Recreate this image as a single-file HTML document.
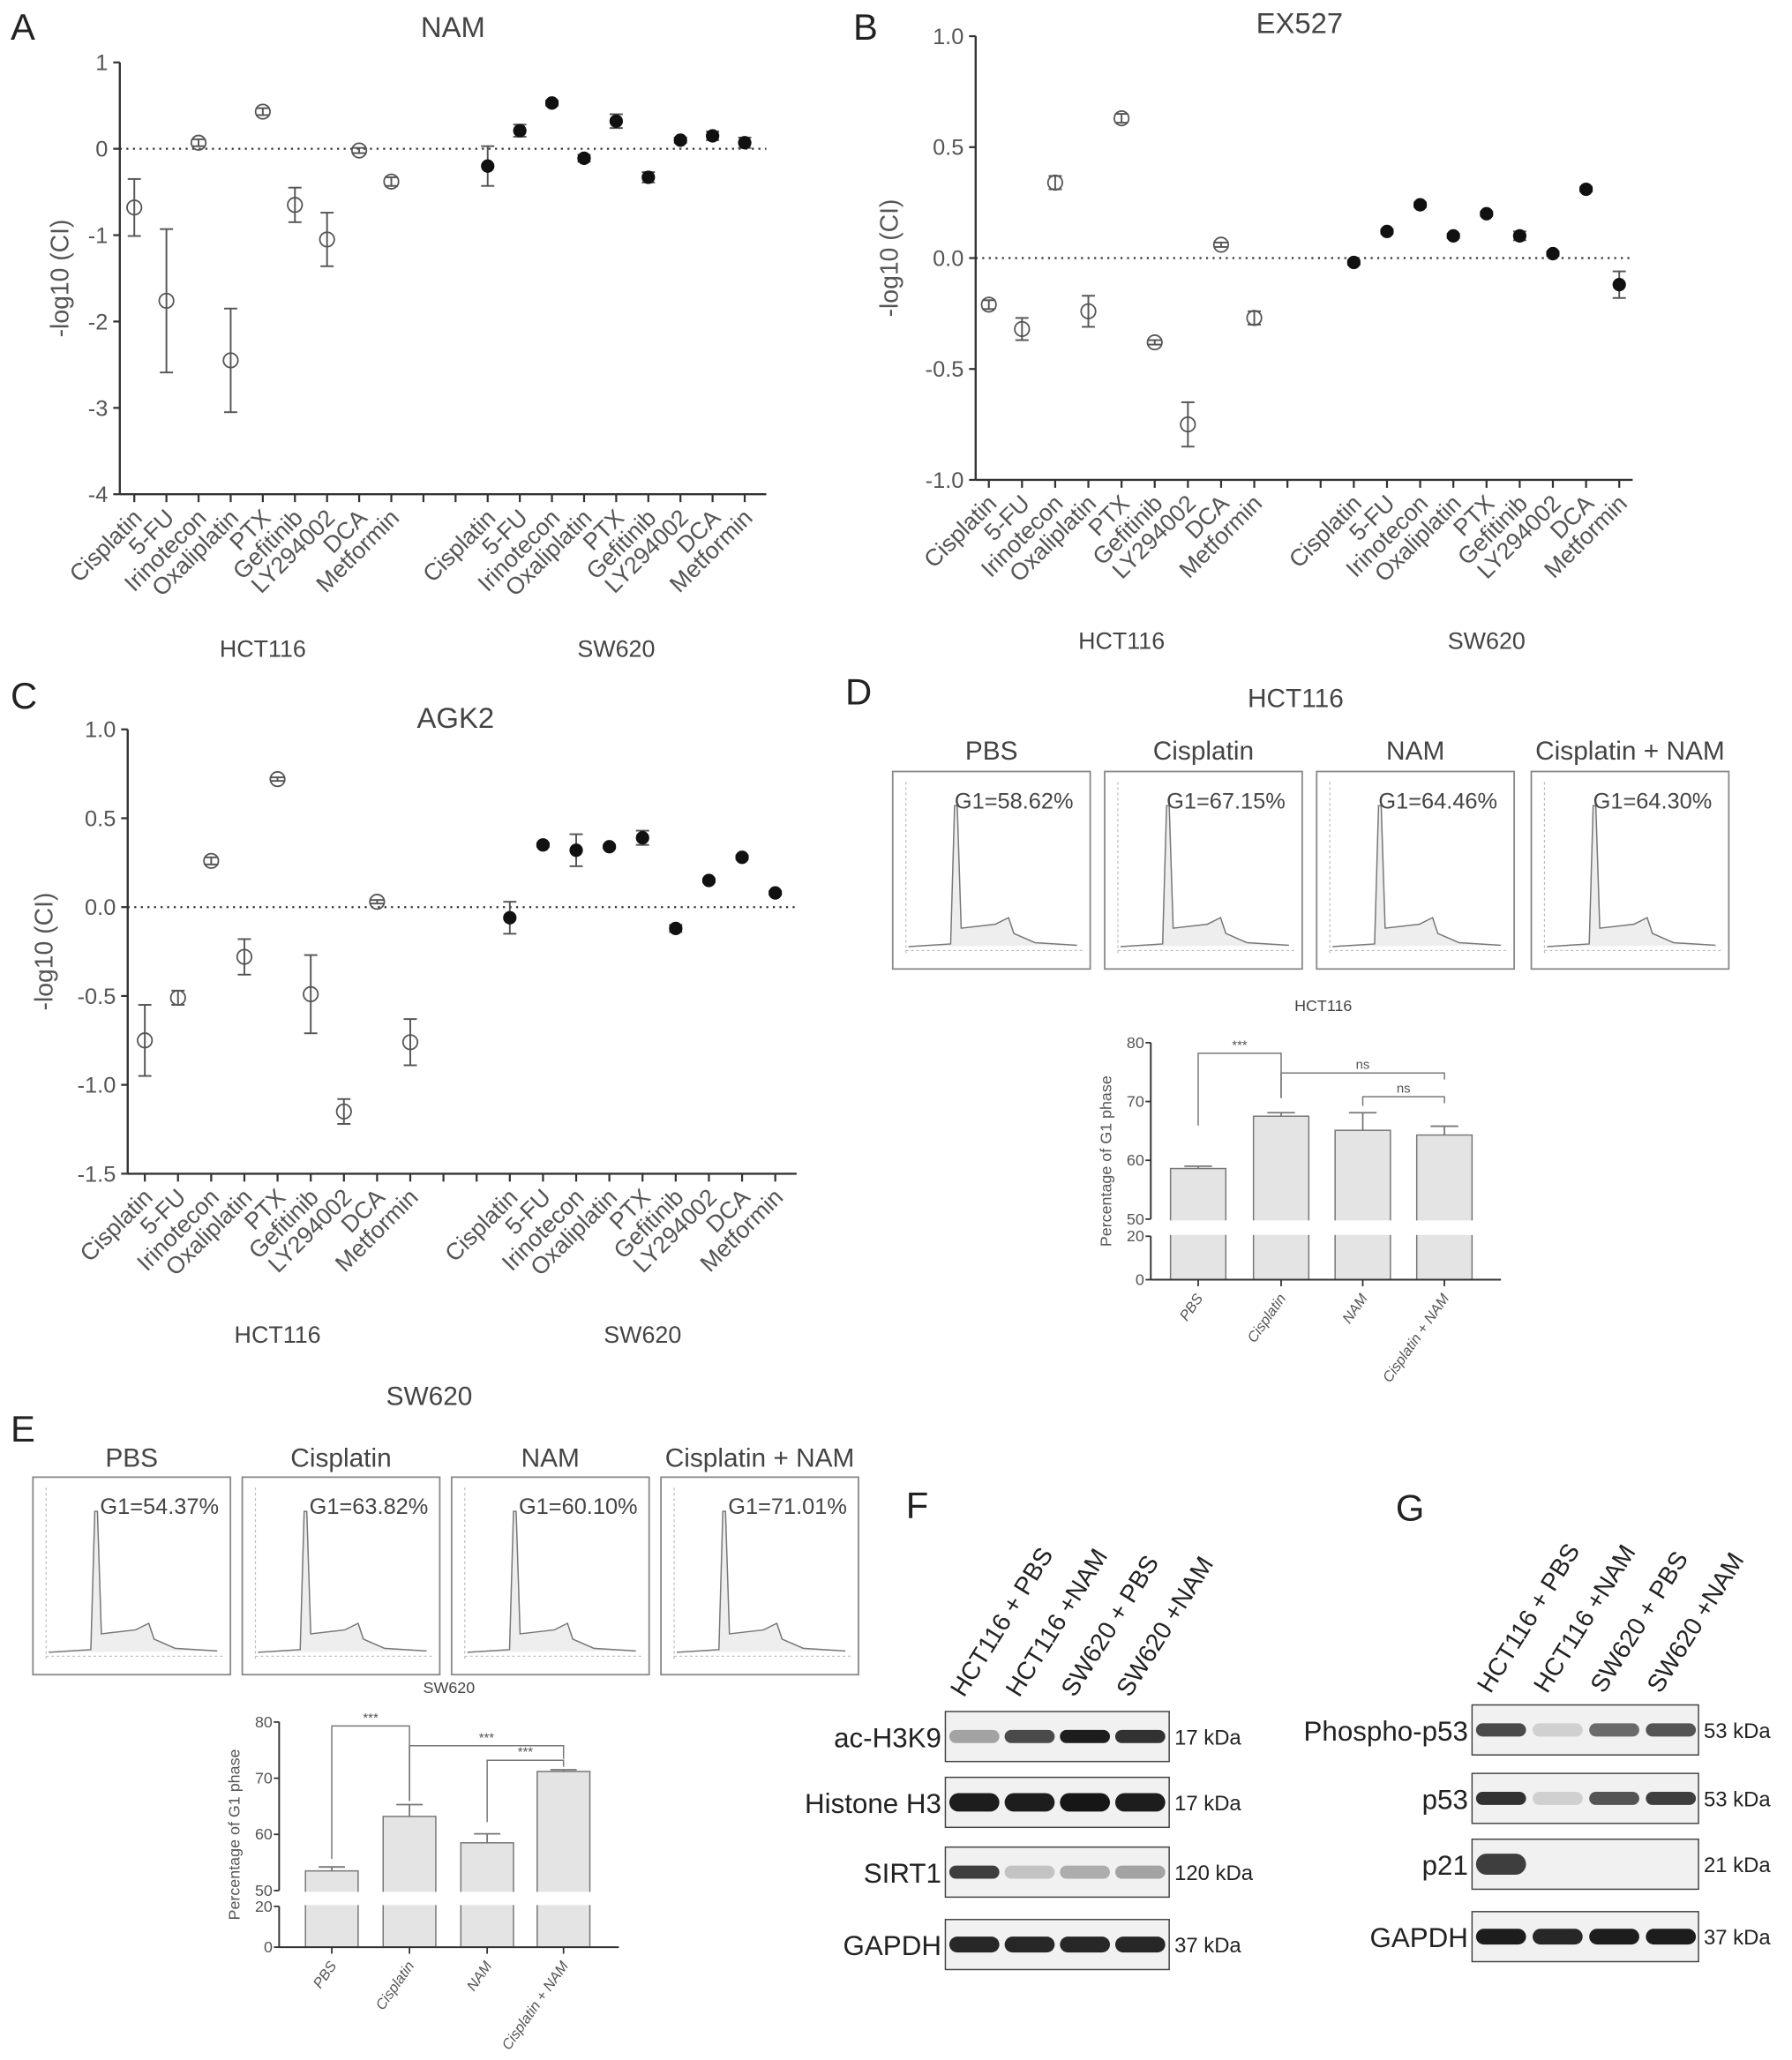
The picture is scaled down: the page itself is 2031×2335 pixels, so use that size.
<!DOCTYPE html>
<html><head><meta charset="utf-8">
<style>
html,body{margin:0;padding:0;background:#fff;}
svg{display:block;}
text{font-family:"Liberation Sans",sans-serif;}
</style></head>
<body>
<svg id="fig" width="2031" height="2335" viewBox="0 0 1361 1564.7" xmlns="http://www.w3.org/2000/svg">
<g id="root"></g>
</svg>
<script>
const drugs = ["Cisplatin","5-FU","Irinotecon","Oxaliplatin","PTX","Gefitinib","LY294002","DCA","Metformin"];
const namHct = [-0.68,-1.76,0.07,-2.45,0.43,-0.65,-1.05,-0.02,-0.38];
const namHctErr = [0.33,0.83,0.04,0.6,0.04,0.2,0.31,0.03,0.05];
const namSw = [-0.2,0.21,0.53,-0.11,0.32,-0.33,0.10,0.15,0.07];
const namSwErr = [0.23,0.07,0.03,0.04,0.08,0.06,0.03,0.05,0.06];
const exHct = [-0.21,-0.32,0.34,-0.24,0.63,-0.38,-0.75,0.06,-0.27];
const exHctErr = [0.02,0.05,0.03,0.07,0.02,0.01,0.1,0.01,0.03];
const exSw = [-0.02,0.12,0.24,0.10,0.20,0.10,0.02,0.31,-0.12];
const exSwErr = [0.01,0.01,0.01,0.01,0.01,0.02,0.01,0.01,0.06];
const agHct = [-0.75,-0.51,0.26,-0.28,0.72,-0.49,-1.15,0.03,-0.76];
const agHctErr = [0.2,0.04,0.02,0.1,0.01,0.22,0.07,0.01,0.13];
const agSw = [-0.06,0.35,0.32,0.34,0.39,-0.12,0.15,0.28,0.08];
const agSwErr = [0.09,0.01,0.09,0.01,0.04,0.02,0.01,0.01,0.01];
const groups = ["PBS","Cisplatin","NAM","Cisplatin + NAM"];
const g1Hct = [58.62,67.15,64.46,64.30];
const barHct = [58.6,67.5,65.1,64.3];
const barHctErr = [0.4,0.6,3.0,1.5];
const g1Sw = [54.37,63.82,60.10,71.01];
const barSw = [53.5,63.2,58.5,71.2];
const barSwErr = [0.7,2.1,1.6,0.3];

const NS="http://www.w3.org/2000/svg";
const root=document.getElementById('root');
function el(tag,attrs,parent,txt){const e=document.createElementNS(NS,tag);for(const k in attrs)e.setAttribute(k,attrs[k]);if(txt!==undefined)e.textContent=txt;(parent||root).appendChild(e);return e;}
function label(x,y,t,size,anchor,name,fill){const e=el('text',{x:x,y:y,'font-size':size,'text-anchor':anchor||'middle',fill:fill||'#444'},root,t);

return e;}

[["A",8,30],["B",648,30],["C",8,538],["D",642,535],["E",8,1095],["F",688,1153],["G",1060,1155]].forEach(p=>{label(p[1],p[2],p[0],28,'start','panel-letter-'+p[0].toLowerCase(),'#222');});

function scatter(c){
  const g=el('g',{});
  
  
  const Y=v=>c.y0-(v)*c.sc;
  const X=i=>c.x0+c.dx*i;
  el('line',{x1:c.ax,y1:Y(c.max),x2:c.ax,y2:Y(c.min),stroke:'#333','stroke-width':1.6},g);
  el('line',{x1:c.ax,y1:Y(c.min),x2:c.xend,y2:Y(c.min),stroke:'#333','stroke-width':1.6},g);
  el('line',{x1:c.ax,y1:Y(0),x2:c.xend,y2:Y(0),stroke:'#333','stroke-width':1.5,'stroke-dasharray':'1.5,3.5'},g);
  c.ticks.forEach(t=>{el('line',{x1:c.ax-5,y1:Y(t),x2:c.ax,y2:Y(t),stroke:'#333','stroke-width':1.5},g);
    const tx=el('text',{x:c.ax-9,y:Y(t)+6,'font-size':17,'text-anchor':'end',fill:'#555'},g,c.fmt(t));
    
    });
  const all=[];
  drugs.forEach((d,i)=>all.push({i:i,v:c.h[i],e:c.he[i],f:false,n:d}));
  drugs.forEach((d,i)=>all.push({i:i+11,v:c.s[i],e:c.se[i],f:true,n:d}));
  for(let i=0;i<20;i++){el('line',{x1:X(i),y1:Y(c.min),x2:X(i),y2:Y(c.min)+6,stroke:'#333','stroke-width':1.5},g);}
  all.forEach(p=>{
    const x=X(p.i);
    el('line',{x1:x,y1:Y(p.v-p.e),x2:x,y2:Y(p.v+p.e),stroke:'#555','stroke-width':1.3},g);
    el('line',{x1:x-5,y1:Y(p.v-p.e),x2:x+5,y2:Y(p.v-p.e),stroke:'#555','stroke-width':1.3},g);
    el('line',{x1:x-5,y1:Y(p.v+p.e),x2:x+5,y2:Y(p.v+p.e),stroke:'#555','stroke-width':1.3},g);
    const m=el('circle',{cx:x,cy:Y(p.v),r:p.f?4.5:5.5,fill:p.f?'#111':'none',stroke:p.f?'#111':'#555','stroke-width':1.2},g);
    
    
    const t=el('text',{x:0,y:0,'font-size':18,'text-anchor':'end',fill:'#555',transform:`translate(${x+7},${Y(c.min)+19}) rotate(-45)`},g,p.n);
    
    
  });
  const tt=el('text',{x:c.tx,y:c.ty,'font-size':22,'text-anchor':'middle',fill:'#444'},g,c.title);
  
  
  const yl=el('text',{x:0,y:0,'font-size':19,'text-anchor':'middle',fill:'#555',transform:`translate(${c.ylx},${(Y(c.max)+Y(c.min))/2}) rotate(-90)`},g,'-log10 (CI)');
  
  
  const h1=el('text',{x:(X(0)+X(8))/2,y:c.gy,'font-size':18,'text-anchor':'middle',fill:'#444'},g,'HCT116');
  
  
  const h2=el('text',{x:(X(11)+X(19))/2,y:c.gy,'font-size':18,'text-anchor':'middle',fill:'#444'},g,'SW620');
  
  
}
scatter({name:'chart-nam',title:'NAM',tx:344,ty:28,ax:91,x0:102,dx:24.4,xend:582,y0:113,sc:65.6,min:-4,max:1,ticks:[1,0,-1,-2,-3,-4],fmt:t=>String(t),h:namHct,he:namHctErr,s:namSw,se:namSwErr,ylx:52,gy:499});
scatter({name:'chart-ex527',title:'EX527',tx:987,ty:25,ax:741,x0:751,dx:25.2,xend:1240,y0:196,sc:168.5,min:-1,max:1,ticks:[1,0.5,0,-0.5,-1],fmt:t=>t.toFixed(1),h:exHct,he:exHctErr,s:exSw,se:exSwErr,ylx:682,gy:493});
scatter({name:'chart-agk2',title:'AGK2',tx:346,ty:553,ax:97,x0:110,dx:25.2,xend:605,y0:689,sc:135,min:-1.5,max:1,ticks:[1,0.5,0,-0.5,-1,-1.5],fmt:t=>t.toFixed(1),h:agHct,he:agHctErr,s:agSw,se:agSwErr,ylx:40,gy:1020});

function flow(c){
  label(c.tx,c.ty,c.title,20,'middle','flow-cell-title','#444');
  c.xs.forEach((x,i)=>{
    const g=el('g',{});
    
    
    el('rect',{x:x,y:c.y,width:150,height:150,fill:'#fff',stroke:'#888','stroke-width':1.2},g);
    el('line',{x1:x+10,y1:c.y+8,x2:x+10,y2:c.y+140,stroke:'#bbb','stroke-width':0.8,'stroke-dasharray':'2,2'},g);
    el('line',{x1:x+10,y1:c.y+136,x2:x+145,y2:c.y+136,stroke:'#bbb','stroke-width':0.8,'stroke-dasharray':'2,2'},g);
    const px=x+c.peak;const b=c.y+133;
    el('path',{d:`M${x+12},${b} L${px-4},${b-2} L${px-1},${c.y+26} L${px+1},${c.y+26} L${px+4},${b-14} L${px+30},${b-17} L${px+40},${b-22} L${px+44},${b-10} L${px+60},${b-3} L${x+140},${b-1}`,fill:'#ddd','fill-opacity':0.5,stroke:'#777','stroke-width':1},g);
    el('text',{x:x+c.gx,y:c.y+28,'font-size':17,'text-anchor':'start',fill:'#444'},g,'G1='+c.g1[i].toFixed(2)+'%');
    const t=el('text',{x:x+75,y:c.ly,'font-size':20,'text-anchor':'middle',fill:'#444'},root,groups[i]);
    
    
  });
}
flow({title:'HCT116',tx:984,ty:537,xs:[678,839,1000,1163],y:586,peak:48,gx:47,g1:g1Hct,ly:577});
flow({title:'SW620',tx:326,ty:1067,xs:[25,184,343,502],y:1122,peak:48,gx:51,g1:g1Sw,ly:1114});

function bars(c){
  const g=el('g',{});
  
  
  const Y=v=>v>=50?c.y50-(v-50)*(c.y50-c.y80)/30:c.y0-v*(c.y0-c.y20)/20;
  c.vals.forEach((v,i)=>{
    const x=c.xs[i];
    const r=el('rect',{x:x-c.w/2,y:Y(v),width:c.w,height:c.y0-Y(v),fill:'#e4e4e4',stroke:'#777','stroke-width':1},g);
    
    
    const e=c.err[i];
    el('line',{x1:x,y1:Y(v),x2:x,y2:Y(v+e),stroke:'#777','stroke-width':1.2},g);
    el('line',{x1:x-c.w/4,y1:Y(v+e),x2:x+c.w/4,y2:Y(v+e),stroke:'#777','stroke-width':1.2},g);
    el('line',{x1:x,y1:c.y0,x2:x,y2:c.y0+5,stroke:'#333','stroke-width':1.2},g);
    const t=el('text',{x:0,y:0,'font-size':11,'font-style':'italic','text-anchor':'end',fill:'#555',transform:`translate(${x+4},${c.y0+14}) rotate(-55)`},g,groups[i]);
    
    
  });
  el('rect',{x:c.ax+2,y:c.y50+1,width:c.xend-c.ax,height:c.y20-c.y50-2,fill:'#fff'},g);
  el('line',{x1:c.ax,y1:c.y80,x2:c.ax,y2:c.y50,stroke:'#333','stroke-width':1.3},g);
  el('line',{x1:c.ax,y1:c.y20,x2:c.ax,y2:c.y0,stroke:'#333','stroke-width':1.3},g);
  el('line',{x1:c.ax,y1:c.y0,x2:c.xend,y2:c.y0,stroke:'#333','stroke-width':1.3},g);
  [[80,c.y80],[70,Y(70)],[60,Y(60)],[50,c.y50],[20,c.y20],[0,c.y0]].forEach(t=>{
    el('line',{x1:c.ax-4,y1:t[1],x2:c.ax,y2:t[1],stroke:'#333','stroke-width':1.2},g);
    el('text',{x:c.ax-5,y:t[1]+4,'font-size':12,'text-anchor':'end',fill:'#555'},g,String(t[0]));
  });
  const yl=el('text',{x:0,y:0,'font-size':12,'text-anchor':'middle',fill:'#555',transform:`translate(${c.ax-30},${(c.y80+c.y0)/2}) rotate(-90)`},g,'Percentage of G1 phase');
  
  
  const tt=el('text',{x:c.tx,y:c.ty,'font-size':12,'text-anchor':'middle',fill:'#444'},g,c.title);
  
  
  c.br.forEach(b=>{
    const x1=c.xs[b[0]],x2=c.xs[b[1]];
    el('path',{d:`M${x1},${b[3]} L${x1},${b[2]} L${x2},${b[2]} L${x2},${b[4]}`,fill:'none',stroke:'#777','stroke-width':1},g);
    el('text',{x:(x1+x2)/2,y:b[2]-3,'font-size':10,'text-anchor':'middle',fill:'#555'},g,b[5]);
  });
}
bars({name:'bar-chart-hct116',title:'HCT116',tx:1005,ty:768,ax:874,xend:1140,xs:[910,973,1035,1097],w:42,y80:792,y50:926,y20:939,y0:972,vals:barHct,err:barHctErr,
  br:[[0,1,800,855,834,'***'],[1,3,815,834,820,'ns'],[2,3,833,840,838,'ns']]});
bars({name:'bar-chart-sw620',title:'SW620',tx:341,ty:1286,ax:212,xend:470,xs:[252,311,370,428],w:40,y80:1308,y50:1436,y20:1448,y0:1479,vals:barSw,err:barSwErr,
  br:[[0,1,1311,1412,1368,'***'],[1,3,1326,1368,1336,'***'],[2,3,1337,1384,1342,'***']]});

function blot(c){
  c.cols.forEach((t,i)=>{
    const e=el('text',{x:0,y:0,'font-size':19,'text-anchor':'start',fill:'#222',transform:`translate(${c.bx+14+i*c.dx},${c.colY}) rotate(-58)`},root,t);
    
    
  });
  c.rows.forEach(r=>{
    const g=el('g',{});
    
    
    el('rect',{x:c.bx,y:r[1],width:c.bw,height:38,fill:'#f1f1f1',stroke:'#444','stroke-width':1},g);
    r[3].forEach((a,i)=>{ if(a>0) el('rect',{x:c.bx+3+i*c.dx,y:r[1]+19-(r[4]||5),width:38,height:2*(r[4]||5),rx:r[4]||5,fill:'#111','fill-opacity':a},g); });
    el('text',{x:c.bx-3,y:r[1]+27,'font-size':21,'text-anchor':'end',fill:'#222'},g,r[0]);
    el('text',{x:c.bx+c.bw+4,y:r[1]+25,'font-size':16,'text-anchor':'start',fill:'#222'},g,r[2]);
  });
}
blot({bx:718,bw:170,dx:42,colY:1290,cols:['HCT116 + PBS','HCT116 +NAM','SW620 + PBS','SW620 +NAM'],rows:[
  ['ac-H3K9',1300,'17 kDa',[0.35,0.75,0.95,0.85],5],
  ['Histone H3',1350,'17 kDa',[0.95,0.95,0.98,0.95],7],
  ['SIRT1',1403,'120 kDa',[0.8,0.2,0.3,0.35],5],
  ['GAPDH',1458,'37 kDa',[0.9,0.9,0.9,0.9],6]]});
blot({bx:1118,bw:172,dx:43,colY:1287,cols:['HCT116 + PBS','HCT116 +NAM','SW620 + PBS','SW620 +NAM'],rows:[
  ['Phospho-p53',1295,'53 kDa',[0.75,0.15,0.6,0.7],5],
  ['p53',1347,'53 kDa',[0.85,0.15,0.7,0.8],5],
  ['p21',1397,'21 kDa',[0.8,0,0,0],8],
  ['GAPDH',1452,'37 kDa',[0.95,0.9,0.95,0.95],6]]});
</script>
</body></html>
